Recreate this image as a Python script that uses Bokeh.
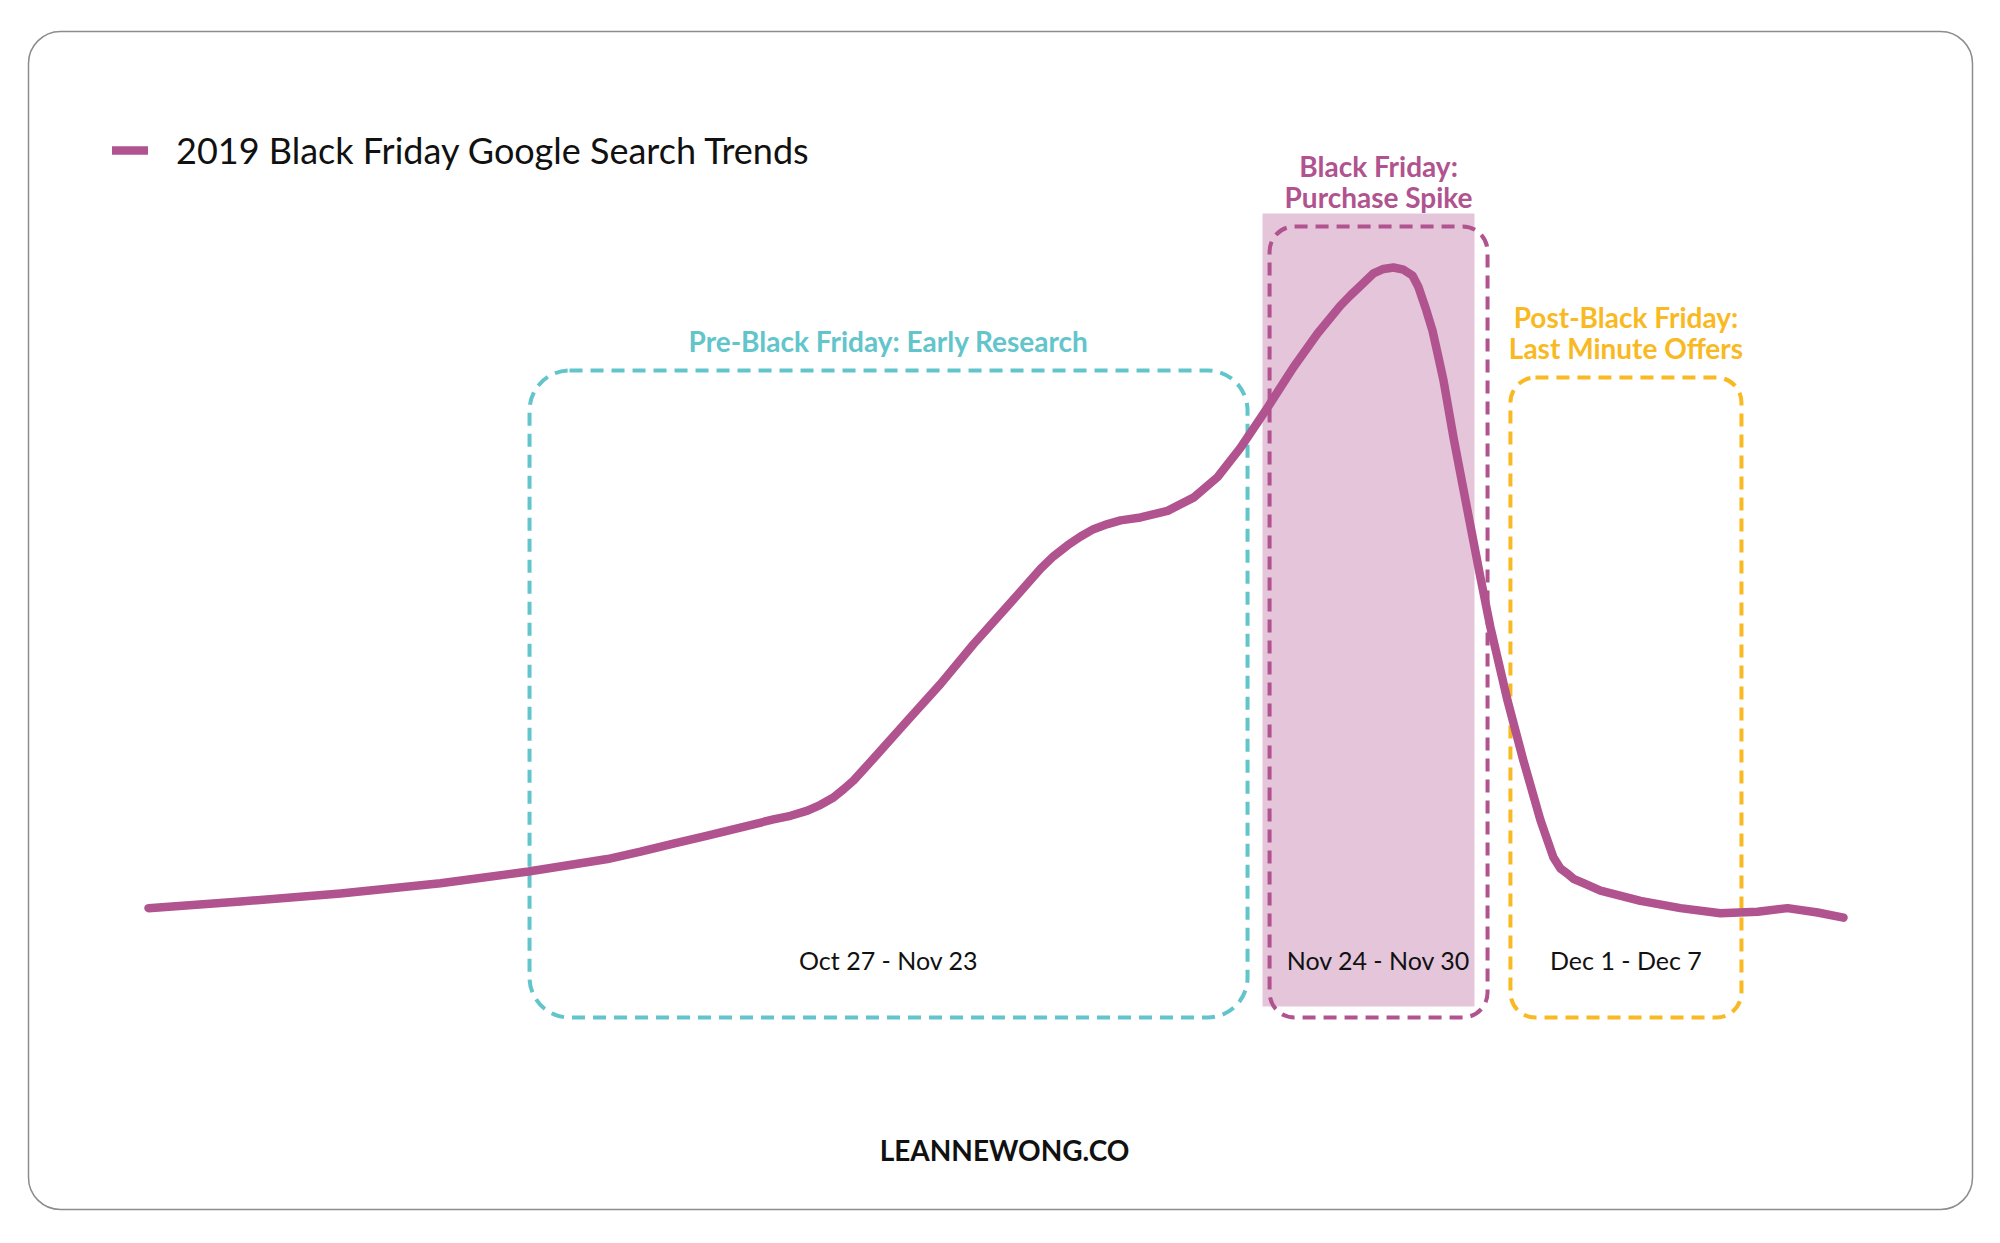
from bokeh.plotting import figure
from bokeh.models import Range1d, BoxAnnotation, Label, Legend, LegendItem
from bokeh.embed import file_html
from bokeh.resources import INLINE

# ---------------- data ----------------
# timeline position (0 = first point, 100 = last point) and relative search interest (peak = 100)
timeline = [0.0, 5.43, 11.33, 17.23, 22.42, 27.08, 29.03, 30.97, 32.98, 36.87, 37.88, 38.88,
            39.65, 40.41, 41.00, 41.59, 42.18, 42.77, 44.78, 46.73, 48.67, 50.68, 52.63,
            53.39, 54.22, 54.99, 55.75, 56.58, 57.35, 58.53, 60.12, 61.65, 63.07, 64.42,
            66.02, 67.55, 68.97, 70.32, 70.91, 71.50, 72.27, 72.86, 73.45, 74.04, 74.57,
            74.93, 75.34, 75.75, 76.05, 76.40, 76.99, 77.82, 78.58, 79.17, 80.18, 81.12,
            82.12, 82.54, 82.89, 83.30, 83.72, 84.07, 84.66, 85.66, 88.02, 90.38, 92.74,
            94.93, 96.70, 98.47, 100.0]
interest = [12.6, 13.5, 14.6, 16.0, 17.6, 19.3, 20.3, 21.4, 22.5, 24.7, 25.2, 25.9,
            26.7, 27.7, 28.8, 30.0, 31.5, 33.0, 38.2, 43.2, 48.6, 53.8, 58.9,
            60.6, 62.1, 63.3, 64.3, 65.0, 65.5, 65.9, 66.8, 68.6, 71.4, 75.4,
            80.9, 86.4, 91.0, 94.8, 96.2, 97.5, 99.2, 99.8, 100.0, 99.7, 98.9,
            97.3, 94.5, 91.4, 88.3, 84.6, 76.8, 66.8, 57.7, 50.9, 40.9, 32.7,
            24.6, 21.8, 19.5, 18.0, 17.3, 16.6, 16.0, 15.0, 13.6, 12.6, 11.9,
            12.1, 12.6, 12.0, 11.3]

series_name = "2019 Black Friday Google Search Trends"
phase_title_line1 = ["", "Black Friday:", "Post-Black Friday:"]
phase_title_line2 = ["Pre-Black Friday: Early Research", "Purchase Spike", "Last Minute Offers"]
phase_dates = ["Oct 27 - Nov 23", "Nov 24 - Nov 30", "Dec 1 - Dec 7"]
phase_start = [22.48, 66.14, 80.35]
phase_end = [64.84, 79.00, 93.98]
footer = "LEANNEWONG.CO"

# ---------------- styles / layout ----------------
W, H = 2000, 1243
PX_X, PX_Y = 16.95, 7.33      # pixels per data unit
OX, OY = 148, 1000            # pixel of data origin (x from left, y from top)

def dx(px):
    return (px - OX) / PX_X

def dy(py):
    return (OY - py) / PX_Y

PURPLE = "#b0538f"
TEAL = "#62c5cb"
YELLOW = "#f9b922"
SHADE = "#e4c5da"
FONT = "Lato"
phase_colors = [TEAL, PURPLE, YELLOW]
phase_top_px = [370, 226, 377]
phase_radius = [40, 25, 25]

p = figure(width=W, height=H, output_backend="svg", toolbar_location=None,
           x_range=Range1d(dx(0), dx(W)), y_range=Range1d(dy(H), dy(0)),
           min_border=0, outline_line_color=None)
p.axis.visible = False
p.grid.visible = False
p.background_fill_color = "white"
p.border_fill_color = "white"

# card border
p.add_layout(BoxAnnotation(left=dx(28), right=dx(1972), top=dy(31), bottom=dy(1209),
                           fill_alpha=0, line_color="#8c8c8c", line_alpha=1, line_width=1.5,
                           border_radius=32, level="underlay"))

# shaded Black Friday week
p.add_layout(BoxAnnotation(left=dx(1262), right=dx(1474), top=dy(213), bottom=dy(1006),
                           fill_color=SHADE, fill_alpha=1, line_alpha=0, level="underlay"))

# phase boxes & labels
for i in range(3):
    p.add_layout(BoxAnnotation(left=phase_start[i], right=phase_end[i],
                               top=dy(phase_top_px[i]), bottom=dy(1017),
                               fill_alpha=0, line_color=phase_colors[i], line_alpha=1,
                               line_width=4, line_dash="13 8",
                               border_radius=phase_radius[i], level="underlay"))
    cx = (phase_start[i] + phase_end[i]) / 2
    ty2 = phase_top_px[i] - 30
    ty1 = ty2 - 31
    if phase_title_line1[i]:
        p.add_layout(Label(x=cx, y=dy(ty1), text=phase_title_line1[i], text_align="center",
                           text_baseline="middle", text_font=FONT, text_font_style="bold",
                           text_font_size="28px", text_color=phase_colors[i]))
    p.add_layout(Label(x=cx, y=dy(ty2), text=phase_title_line2[i], text_align="center",
                       text_baseline="middle", text_font=FONT, text_font_style="bold",
                       text_font_size="28px", text_color=phase_colors[i]))
    p.add_layout(Label(x=cx, y=dy(959), text=phase_dates[i], text_align="center",
                       text_baseline="middle", text_font=FONT, text_font_size="25px",
                       text_color="#111111"))

# the trend line
r = p.line(timeline, interest, line_color=PURPLE, line_width=8.5,
           line_cap="round", line_join="round")

legend = Legend(items=[LegendItem(label=series_name, renderers=[r])],
                location=(112, H - 152 - 20), orientation="vertical",
                label_text_font=FONT, label_text_font_size="36px", label_text_color="#111111",
                glyph_width=36, glyph_height=40, label_height=40, label_standoff=28,
                padding=0, margin=0, spacing=0,
                border_line_alpha=0, background_fill_alpha=0)
p.add_layout(legend, "center")

p.add_layout(Label(x=dx(1004), y=dy(1149), text=footer, text_align="center",
                   text_baseline="middle", text_font=FONT, text_font_style="bold",
                   text_font_size="28px", text_color="#111111"))

open("out.html", "w").write(file_html(p, INLINE))
